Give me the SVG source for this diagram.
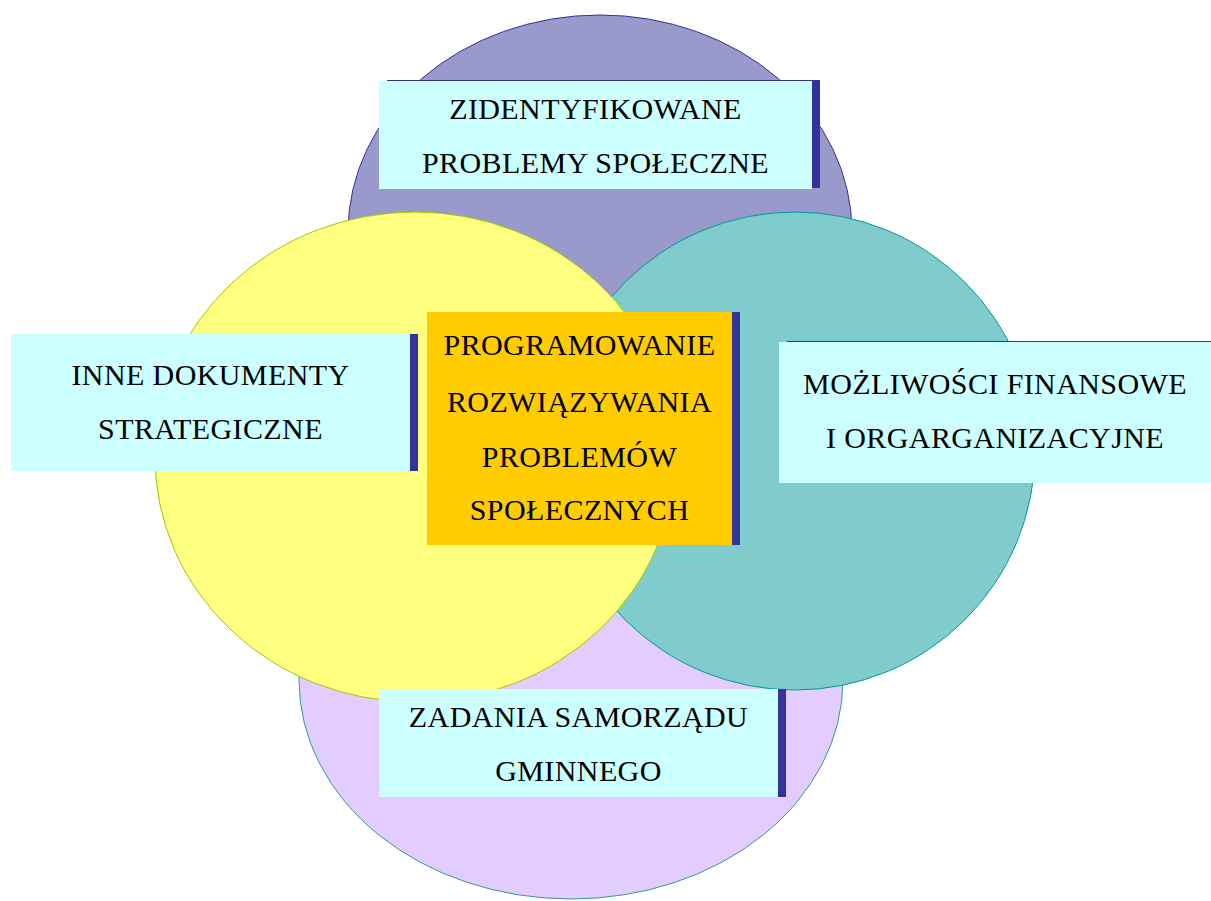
<svg xmlns="http://www.w3.org/2000/svg" width="1211" height="901" viewBox="0 0 1211 901">
<style>
.lbl{font-family:"Liberation Serif","Times New Roman",serif;font-size:30px;letter-spacing:0.4px;fill:#000;text-anchor:middle}
.box{fill:#CCFFFF}
.sh{fill:#333399}
</style>
<rect width="1211" height="901" fill="#fff"/>
<g id="circles">
<ellipse id="c-top" cx="600" cy="232" rx="252" ry="217" fill="#9999CC" stroke="#333399" stroke-width="1"/>
<ellipse id="c-bottom" cx="571" cy="680" rx="272" ry="219" fill="#E3CCFF" stroke="#339999" stroke-width="1"/>
<ellipse id="c-right" cx="795" cy="451" rx="240" ry="239" fill="#80CCCC" stroke="#009999" stroke-width="1"/>
<ellipse id="c-left" cx="415" cy="457" rx="260" ry="245" fill="#FFFF80" stroke="#99CC00" stroke-width="1"/>
</g>
<g id="node-top">
<rect class="sh" x="387" y="80" width="433" height="108"/>
<rect class="box" x="379" y="81" width="433" height="108"/>
<text class="lbl" x="595.5" y="119">ZIDENTYFIKOWANE</text>
<text class="lbl" x="595.5" y="173">PROBLEMY SPOŁECZNE</text>
</g>
<g id="node-left">
<rect class="sh" x="19" y="334" width="399" height="137"/>
<rect class="box" x="11" y="334" width="399" height="137"/>
<text class="lbl" x="210.5" y="385">INNE DOKUMENTY</text>
<text class="lbl" x="210.5" y="439">STRATEGICZNE</text>
</g>
<g id="node-center">
<rect class="sh" x="435" y="312" width="305" height="233"/>
<rect x="427" y="312" width="305" height="233" fill="#FFCC00"/>
<text class="lbl" x="579.5" y="355">PROGRAMOWANIE</text>
<text class="lbl" x="579.5" y="412">ROZWIĄZYWANIA</text>
<text class="lbl" x="579.5" y="467">PROBLEMÓW</text>
<text class="lbl" x="579.5" y="520">SPOŁECZNYCH</text>
</g>
<g id="node-right">
<rect class="sh" x="787" y="341" width="432" height="141"/>
<rect class="box" x="779" y="342" width="432" height="141"/>
<text class="lbl" x="995" y="394">MOŻLIWOŚCI FINANSOWE</text>
<text class="lbl" x="995" y="448">I ORGARGANIZACYJNE</text>
</g>
<g id="node-bottom">
<rect class="sh" x="387" y="689" width="399" height="108"/>
<rect class="box" x="379" y="689" width="399" height="108"/>
<text class="lbl" x="578.5" y="727">ZADANIA SAMORZĄDU</text>
<text class="lbl" x="578.5" y="781">GMINNEGO</text>
</g>
<g id="connectors"></g>
</svg>
